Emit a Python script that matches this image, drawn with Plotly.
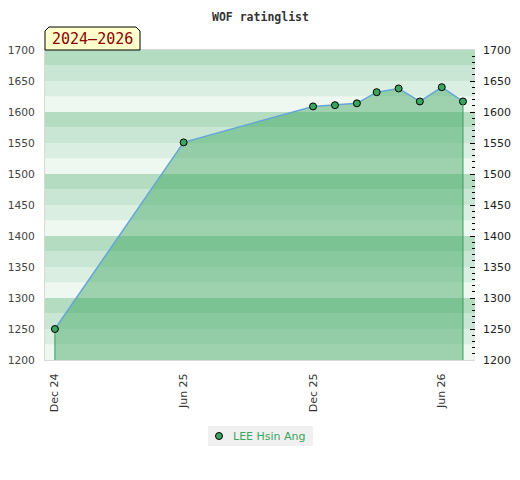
import plotly.graph_objects as go

# ---- data ----
dates = ["2024-12-01", "2025-06-01", "2025-12-01", "2026-01-01", "2026-02-01",
         "2026-03-01", "2026-04-01", "2026-05-01", "2026-06-01", "2026-07-01"]
ratings = [1250, 1551, 1609, 1611, 1614, 1632, 1638, 1617, 1640, 1617]
player = "LEE Hsin Ang"
title_text = "WOF ratinglist"
period_label = "2024\u20132026"
y_min, y_max = 1200, 1700
x_range = ["2024-11-17", "2026-07-18"]

band_colors = ["#eff7f1", "#dbeee2", "#c8e6d3", "#b3dcc1"]  # bottom -> top within each 100
series_color = "#3aa55d"

OFF = 8  # page body margin
W, H = 520 - OFF, 480 - OFF
ML, MR, MT, MB = 45 - OFF, 45, 50 - OFF, 120

def px_x(p):  # page pixel -> paper x
    return (p - OFF - ML) / (W - ML - MR)

def px_y(p):  # page pixel -> paper y
    return (H - MB - (p - OFF)) / (H - MT - MB)

fig = go.Figure()

# fill + line
fig.add_trace(go.Scatter(
    x=dates, y=ratings, mode="lines", fill="tozeroy",
    fillcolor="rgba(54,165,91,0.44)",
    line=dict(color="#64a6d8", width=1.5),
    showlegend=False, hoverinfo="skip"))

# vertical edge lines at the first and last points
fig.add_trace(go.Scatter(
    x=[dates[0], dates[0]], y=[y_min, ratings[0]], mode="lines",
    line=dict(color="#3a9d5a", width=1), showlegend=False, hoverinfo="skip"))
fig.add_trace(go.Scatter(
    x=[dates[-1], dates[-1]], y=[y_min, ratings[-1]], mode="lines",
    line=dict(color="#3a9d5a", width=1), showlegend=False, hoverinfo="skip",
    yaxis="y2"))

# markers
fig.add_trace(go.Scatter(
    x=dates, y=ratings, mode="markers", name=player, showlegend=False,
    marker=dict(size=7, color=series_color, line=dict(color="#000000", width=1))))

# background bands
shapes = []
v = y_min
i = 0
while v < y_max:
    shapes.append(dict(type="rect", xref="paper", yref="y", x0=0, x1=1,
                       y0=v, y1=v + 25, fillcolor=band_colors[i % 4],
                       line=dict(width=0), layer="below"))
    v += 25
    i += 1

# badge with cut corners
bx0, bx1, by0, by1, c = 45, 140, 27, 50, 4
path = (f"M {px_x(bx0)} {px_y(by1)} L {px_x(bx0)} {px_y(by0 + c)} "
        f"L {px_x(bx0 + c)} {px_y(by0)} L {px_x(bx1 - c)} {px_y(by0)} "
        f"L {px_x(bx1)} {px_y(by0 + c)} L {px_x(bx1)} {px_y(by1)} Z")
shapes.append(dict(type="path", xref="paper", yref="paper", path=path,
                   fillcolor="#ffffcc", line=dict(color="#000000", width=1),
                   layer="above"))

# legend box (drawn by hand to match the compact layout)
lx0, lx1, ly0, ly1 = 208, 313, 426, 446
shapes.append(dict(type="rect", xref="paper", yref="paper",
                   x0=px_x(lx0), x1=px_x(lx1), y0=px_y(ly1), y1=px_y(ly0),
                   fillcolor="#f0f0f0", line=dict(width=0), layer="above"))
mx, my, r = 219, 436, 3.5
shapes.append(dict(type="circle", xref="paper", yref="paper",
                   x0=px_x(mx - r), x1=px_x(mx + r), y0=px_y(my + r), y1=px_y(my - r),
                   fillcolor=series_color, line=dict(color="#000000", width=1),
                   layer="above"))

fig.update_layout(
    width=W, height=H,
    margin=dict(l=ML, r=MR, t=MT, b=MB, autoexpand=False),
    paper_bgcolor="white", plot_bgcolor="white",
    shapes=shapes,
    showlegend=False,
    annotations=[
        dict(text="<b>" + title_text + "</b>", xref="paper", yref="paper",
             x=px_x(260), y=px_y(OFF + 0.5), showarrow=False,
             xanchor="center", yanchor="top", borderpad=0,
             font=dict(family="DejaVu Sans Mono", size=11.5, color="#333333")),
        dict(text=period_label, xref="paper", yref="paper",
             x=px_x((bx0 + bx1) / 2), y=px_y(39.5), showarrow=False,
             xanchor="center", yanchor="middle",
             font=dict(family="DejaVu Sans Mono", size=15, color="#8b0000")),
        dict(text=player, xref="paper", yref="paper",
             x=px_x(231), y=px_y(436), showarrow=False,
             xanchor="left", yanchor="middle",
             font=dict(family="DejaVu Sans", size=11, color=series_color)),
    ],
    xaxis=dict(type="date", range=x_range, tick0="2024-12-01", dtick="M6",
               tickformat="%b %y", tickangle=-90, showgrid=False,
               zeroline=False, showline=True, linecolor="#d9d9d9",
               linewidth=1, mirror=True, ticks="", ticklabelstandoff=8,
               automargin=False,
               tickfont=dict(family="DejaVu Sans", size=11, color="#333333")),
    yaxis=dict(range=[y_min, y_max], dtick=50, showgrid=False,
               zeroline=False, showline=True, linecolor="#d9d9d9",
               linewidth=1, ticks="", ticklabelstandoff=7, automargin=False,
               tickfont=dict(family="DejaVu Sans", size=10.7, color="#444444")),
    yaxis2=dict(range=[y_min, y_max], dtick=50, overlaying="y", side="right",
                showgrid=False, zeroline=False, showline=False,
                ticks="inside", ticklen=5, tickcolor="#000000", tickwidth=1,
                minor=dict(dtick=10, ticks="inside", ticklen=3,
                           tickcolor="#000000", tickwidth=1),
                ticklabelstandoff=7, automargin=False,
                tickfont=dict(family="DejaVu Sans", size=11, color="#222222")),
)

fig.write_html("out.html")
